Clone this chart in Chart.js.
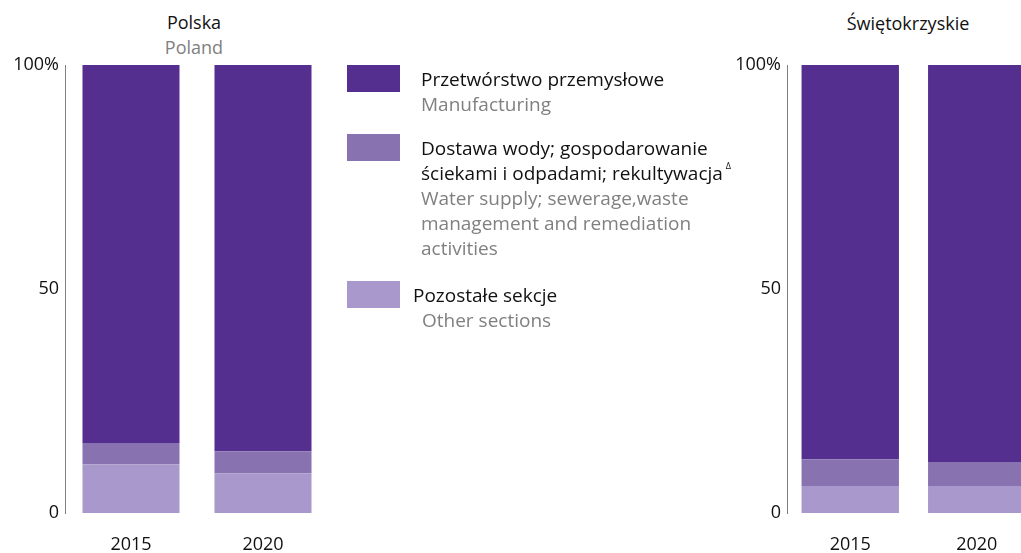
<!DOCTYPE html>
<html>
<head>
<meta charset="utf-8">
<script src="https://cdn.jsdelivr.net/npm/chart.js@4.4.1/dist/chart.umd.min.js"></script>
<style>
  html, body { margin: 0; padding: 0; background: #fff; overflow: hidden; }
  body { width: 1021px; height: 553px; position: relative; font-family: "Open Sans", sans-serif; }
  .title { position: absolute; text-align: center; font-size: 18px; line-height: 25px; color: #111; }
  .title .en { color: #808080; }
  .chart { position: absolute; top: 0; height: 553px; }
  .leg-item { position: absolute; left: 347px; }
  .leg-sw { position: absolute; left: 0; width: 53px; height: 27px; }
  .leg-txt { position: absolute; left: 74px; width: 340px; font-size: 19px; line-height: 25px; color: #111; white-space: nowrap; }
  .leg-txt .en { color: #808080; }
  .leg-txt sup { font-size: 9px; line-height: 0; position: relative; top: -4px; margin-left: 3px; }
</style>
</head>
<body>
<div class="title" style="left:144px; top:10px; width:100px;">Polska<br><span class="en">Poland</span></div>
<div class="title" style="left:838px; top:11px; width:140px;">Świętokrzyskie</div>

<div class="chart" style="left:0; width:329px;"><canvas id="chartPL"></canvas></div>
<div class="chart" style="left:700px; width:340px;"><canvas id="chartSW"></canvas></div>

<div id="legend"></div>

<script>
// Lata
const years = ['2015', '2020'];

// Polska - udział w %
const plManufacturing = [84.4, 86.2];
const plWater = [4.7, 4.9];
const plOther = [10.9, 8.9];

// Świętokrzyskie - udział w %
const swManufacturing = [88.0, 88.6];
const swWater = [6.0, 5.4];
const swOther = [6.0, 6.0];

const colors = ['#552f8f', '#8872b0', '#a998cb'];
const legendPl = ['Przetwórstwo przemysłowe', 'Dostawa wody; gospodarowanie<br>ściekami i odpadami; rekultywacja<sup>Δ</sup>', 'Pozostałe sekcje'];
const legendEn = ['Manufacturing', 'Water supply; sewerage,waste<br>management and remediation<br>activities', 'Other sections'];
const legendTops = [65, 134, 281];

const yTicks = [0, 50, 100];

// Legenda w HTML
const legendDiv = document.getElementById('legend');
legendPl.forEach((txt, i) => {
    legendDiv.innerHTML += `
        <div class="leg-item" style="top:${legendTops[i]}px;">
            <div class="leg-sw" style="background:${colors[i]}"></div>
            <div class="leg-txt" style="top:2px;${i === 2 ? 'left:66px;' : ''}">${txt}<br><span class="en" ${i === 2 ? 'style="margin-left:9px"' : ''}>${legendEn[i]}</span></div>
        </div>`;
});

function makeChart(id, other, water, manuf, yWidth, barPct) {
    const ctx = document.getElementById(id).getContext('2d');
    return new Chart(ctx, {
        type: 'bar',
        data: {
            labels: years,
            datasets: [
                { label: 'Pozostałe sekcje', data: other, backgroundColor: colors[2] },
                { label: 'Dostawa wody', data: water, backgroundColor: colors[1] },
                { label: 'Przetwórstwo przemysłowe', data: manuf, backgroundColor: colors[0] }
            ]
        },
        options: {
            responsive: true,
            maintainAspectRatio: false,
            animation: false,
            layout: { padding: { top: 65, right: 0, left: 0, bottom: 0 } },
            datasets: { bar: { barPercentage: barPct, categoryPercentage: 1, borderWidth: 0 } },
            plugins: { legend: { display: false }, tooltip: { enabled: false } },
            scales: {
                x: {
                    stacked: true,
                    grid: { display: false, drawTicks: false },
                    border: { display: false },
                    ticks: { color: '#111', font: { family: 'Open Sans', size: 18 }, padding: 21, maxRotation: 0 },
                    afterFit: s => { s.height = 40; }
                },
                y: {
                    stacked: true,
                    min: 0, max: 100,
                    afterBuildTicks: s => { s.ticks = yTicks.map(v => ({ value: v })); },
                    grid: { display: false, drawTicks: false },
                    border: { display: true, color: '#808080', width: 1 },
                    ticks: {
                        color: '#111', font: { family: 'Open Sans', size: 18 }, padding: 6,
                        callback: v => v === 100 ? '100%' : v
                    },
                    afterFit: s => { s.width = yWidth; }
                }
            }
        }
    });
}

makeChart('chartPL', plOther, plWater, plManufacturing, 65, 0.735);
makeChart('chartSW', swOther, swWater, swManufacturing, 87, 0.77);
</script>
</body>
</html>
